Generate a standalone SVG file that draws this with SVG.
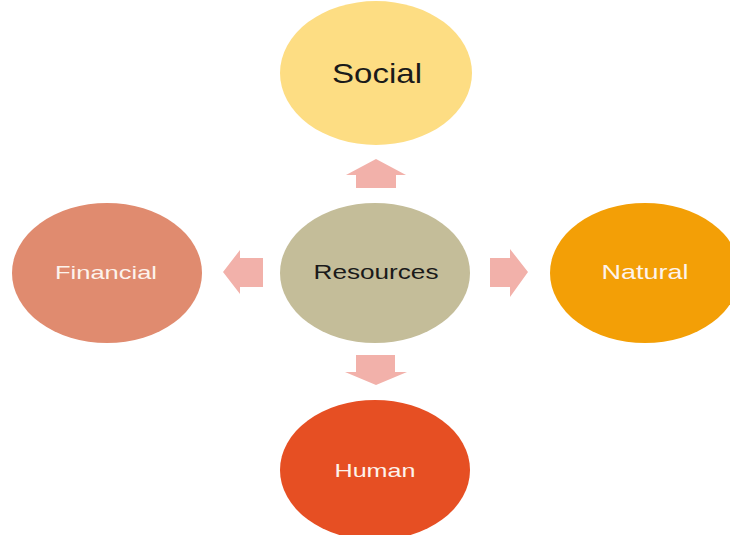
<svg xmlns="http://www.w3.org/2000/svg" width="730" height="535" viewBox="0 0 730 535">
<style>
.lbl{font-family:"Liberation Sans",Arial,sans-serif;text-anchor:middle}
.dark{fill:#1a1a1a}
.light{fill:#fdf3ec}
.arr{fill:#f2b1aa}
</style>
<rect width="730" height="535" fill="#ffffff"/>
<g id="connectors">
<polygon class="arr" points="356,188 356,175 346,175 376,159 406,175 396,175 396,188"/>
<polygon class="arr" points="263,258 240,258 240,250 223,272 240,294 240,287 263,287"/>
<polygon class="arr" points="490,258 510,258 510,249 528,272 510,297 510,287 490,287"/>
<polygon class="arr" points="356,355 356,372 345,372 376,385 407,372 395,372 395,355"/>
</g>
<g id="social">
<ellipse cx="376" cy="73" rx="96" ry="72" fill="#fddd83"/>
<text class="lbl dark" x="377" y="83" font-size="28" textLength="90" lengthAdjust="spacingAndGlyphs">Social</text>
</g>
<g id="resources">
<ellipse cx="375" cy="273" rx="95" ry="70" fill="#c4bd99"/>
<text class="lbl dark" x="376" y="279" font-size="21" textLength="125" lengthAdjust="spacingAndGlyphs">Resources</text>
</g>
<g id="financial">
<ellipse cx="107" cy="273" rx="95" ry="70" fill="#e08b6f"/>
<text class="lbl light" x="106" y="279" font-size="19" textLength="102" lengthAdjust="spacingAndGlyphs">Financial</text>
</g>
<g id="natural">
<ellipse cx="645" cy="273" rx="95" ry="70" fill="#f39f06"/>
<text class="lbl light" x="645" y="279" font-size="21" textLength="87" lengthAdjust="spacingAndGlyphs">Natural</text>
</g>
<g id="human">
<ellipse cx="375" cy="470" rx="95" ry="70" fill="#e64f23"/>
<text class="lbl light" x="375" y="477" font-size="19" textLength="81" lengthAdjust="spacingAndGlyphs">Human</text>
</g>
</svg>
